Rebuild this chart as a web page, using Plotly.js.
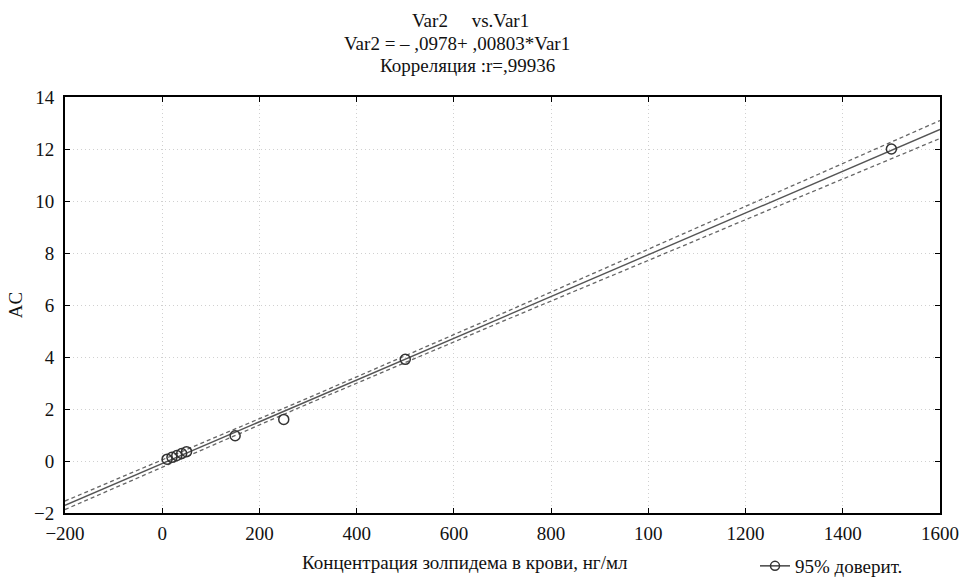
<!DOCTYPE html>
<html>
<head>
<meta charset="utf-8">
<script src="https://cdn.plot.ly/plotly-3.0.1.min.js"></script>
<style>html,body{margin:0;padding:0;background:#fff;}#chart{width:960px;height:577px;}</style>
</head>
<body>
<div id="chart"></div>
<script>
// Data
const concentration = [10, 20, 30, 40, 50, 150, 250, 500, 1500];
const acValues = [0.07, 0.14, 0.21, 0.29, 0.36, 0.97, 1.60, 3.91, 12.00];
const intercept = -0.0978;
const slope = 0.00803;
const tValue = 2.365; // t(0.975, df = n-2 = 7)
const xTickVals = [-200, 0, 200, 400, 600, 800, 1000, 1200, 1400, 1600];
const xTickText = ['\u2212200', '0', '200', '400', '600', '800', '100', '1200', '1400', '1600'];
const yTickVals = [-2, 0, 2, 4, 6, 8, 10, 12, 14];
const titleLines = ['Var2&nbsp;&nbsp;&nbsp;&nbsp; vs.Var1', 'Var2 = \u2013 ,0978+ ,00803*Var1', 'Корреляция :r=,99936'];
const xTitle = 'Концентрация золпидема в крови, нг/мл';
const yTitle = 'AC';
const legendName = '95% доверит.';

// Regression line and 95% confidence band (computed from the data)
const n = concentration.length;
const xMean = concentration.reduce((a, b) => a + b, 0) / n;
const sxx = concentration.reduce((a, x) => a + (x - xMean) ** 2, 0);
const sse = concentration.reduce((a, x, i) => a + (acValues[i] - (intercept + slope * x)) ** 2, 0);
const s = Math.sqrt(sse / (n - 2));
const fitX = [], fitY = [], upY = [], loY = [];
for (let x = -200; x <= 1600; x += 25) {
  const yh = intercept + slope * x;
  const hw = tValue * s * Math.sqrt(1 / n + (x - xMean) ** 2 / sxx);
  fitX.push(x); fitY.push(yh); upY.push(yh + hw); loY.push(yh - hw);
}

const font = 'Liberation Serif, Times New Roman, serif';
const traces = [
  {x: fitX, y: upY, mode: 'lines', line: {color: '#666', width: 1.3, dash: '4px,3px'}, showlegend: false, hoverinfo: 'skip'},
  {x: fitX, y: loY, mode: 'lines', line: {color: '#666', width: 1.3, dash: '4px,3px'}, showlegend: false, hoverinfo: 'skip'},
  {x: fitX, y: fitY, mode: 'lines', line: {color: '#555', width: 1.4}, showlegend: false},
  {x: concentration, y: acValues, mode: 'markers', marker: {symbol: 'circle-open', size: 10, color: '#333', line: {width: 1.5, color: '#333'}}, showlegend: false},
  {x: [null], y: [null], mode: 'lines+markers', name: legendName, line: {color: '#444', width: 1.5}, marker: {symbol: 'circle-open', size: 9, color: '#333', line: {width: 1.5}}, showlegend: true}
];

const W = 960, H = 577, L = 65, R = 20, T = 97, B = 64;
const pw = W - L - R, ph = H - T - B;
function px(xp) { return (xp - L) / pw; }
function py(yp) { return (H - B - yp) / ph; }

const annotations = [
  {text: titleLines[0], x: px(470), y: py(20)},
  {text: titleLines[1], x: px(457), y: py(43)},
  {text: titleLines[2], x: px(467), y: py(66)},
  {text: xTitle, x: px(465), y: py(562)}
].map(a => Object.assign({xref: 'paper', yref: 'paper', showarrow: false, xanchor: 'center', yanchor: 'middle', font: {family: font, size: 19, color: '#111'}}, a));

const layout = {
  width: W, height: H,
  margin: {l: L, r: R, t: T, b: B, autoexpand: false},
  paper_bgcolor: '#fff', plot_bgcolor: '#fff',
  font: {family: font, size: 19, color: '#111'},
  showlegend: true,
  legend: {xref: 'container', yref: 'container', x: 755 / W, y: (H - 566) / H, xanchor: 'left', yanchor: 'middle', font: {family: font, size: 19, color: '#111'}, bgcolor: 'rgba(0,0,0,0)', itemwidth: 30},
  xaxis: {
    range: [-200, 1600], tickmode: 'array', tickvals: xTickVals, ticktext: xTickText,
    showline: true, linecolor: '#000', linewidth: 2, mirror: 'ticks',
    ticks: 'inside', ticklen: 5, tickcolor: '#000', tickwidth: 1,
    showgrid: true, gridcolor: '#d0d0d0', griddash: '1px,3px', gridwidth: 1, zeroline: false,
    tickfont: {family: font, size: 19, color: '#111'}, ticklabelstandoff: 2, ticklabeloverflow: 'allow',
    automargin: false
  },
  yaxis: {
    range: [-2, 14], tickmode: 'array', tickvals: yTickVals,
    showline: true, linecolor: '#000', linewidth: 2, mirror: 'ticks',
    ticks: 'inside', ticklen: 5, tickcolor: '#000', tickwidth: 1,
    showgrid: true, gridcolor: '#d0d0d0', griddash: '1px,3px', gridwidth: 1, zeroline: false,
    tickfont: {family: font, size: 19, color: '#111'}, ticklabelstandoff: 5,
    automargin: false,
    title: {text: yTitle, font: {family: font, size: 19, color: '#111'}, standoff: 6}
  },
  annotations: annotations
};

Plotly.newPlot('chart', traces, layout, {displayModeBar: false, staticPlot: true});
</script>
</body>
</html>
